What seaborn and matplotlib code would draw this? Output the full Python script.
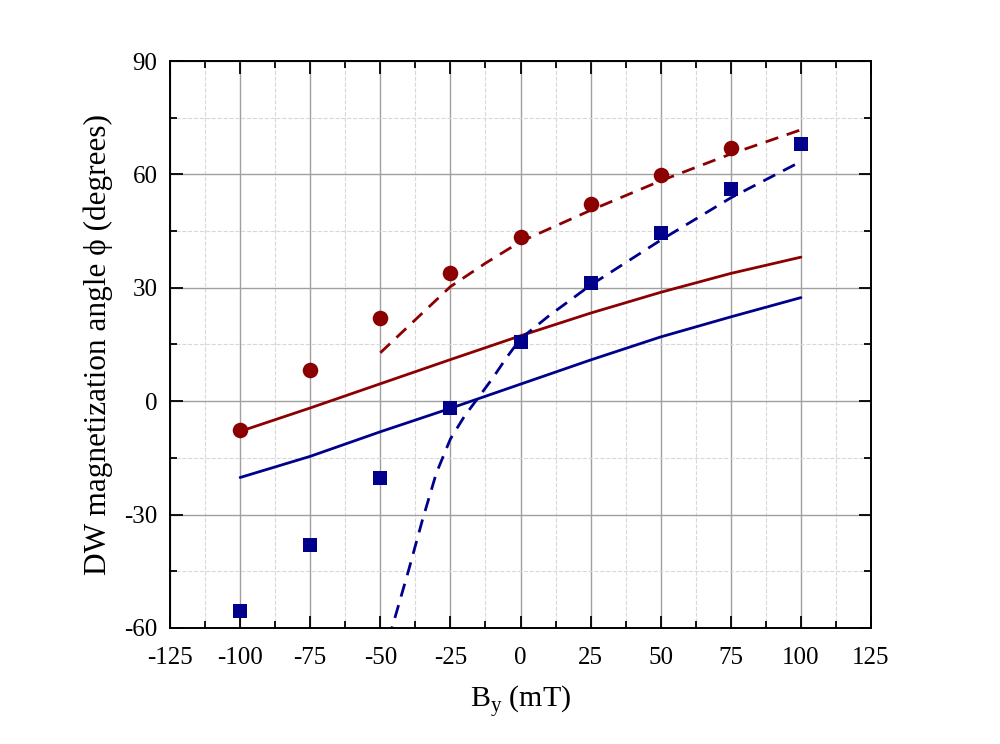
import numpy as np
import pandas as pd
import matplotlib
matplotlib.use("Agg")
import matplotlib.pyplot as plt
import seaborn as sns
from matplotlib.ticker import MultipleLocator

# measured points
field = [-100, -75, -50, -25, 0, 25, 50, 75]
phi_red = [-7.7, 8.3, 22.0, 33.8, 43.4, 52.1, 59.8, 67.1]
field_blue = [-100, -75, -50, -25, 0, 25, 50, 75, 100]
phi_blue = [-55.6, -38.1, -20.4, -1.9, 15.6, 31.2, 44.4, 56.2, 68.0]

# model curves, solid
line_x = [-100, -75, -50, -25, 0, 25, 50, 75, 100]
red_solid = [-8.0, -1.8, 4.6, 11.0, 17.3, 23.3, 28.8, 33.8, 38.1]
blue_solid = [-20.2, -14.6, -8.1, -1.9, 4.5, 10.9, 17.0, 22.3, 27.4]

# model curves, dashed
red_dash_x = [-50, -40, -25, -12.5, 0, 25, 50, 75, 100]
red_dash_y = [12.8, 19.8, 30.3, 36.5, 42.2, 50.5, 58.3, 65.4, 71.8]
blue_dash_x = [-47, -40, -35, -30, -25, -20, -15, -10, -5, 0, 10, 25, 50, 75, 100]
blue_dash_y = [-63, -45, -31.5, -19, -10, -4, 1, 6, 11.5, 16.5, 22.5, 30.7, 42.6, 53.8, 63.4]

red = "#8b0000"
blue = "#00008b"

sns.set_style("ticks")
plt.rcParams['font.family'] = ['Liberation Serif', 'DejaVu Serif']
plt.rcParams['mathtext.fontset'] = 'custom'
plt.rcParams['mathtext.rm'] = 'Liberation Serif'
plt.rcParams['axes.unicode_minus'] = False
plt.rcParams['text.color'] = 'black'
plt.rcParams['axes.labelcolor'] = 'black'
plt.rcParams['xtick.color'] = 'black'
plt.rcParams['ytick.color'] = 'black'

fig = plt.figure(figsize=(10, 7.44), dpi=100)
ax = fig.add_axes([0.17, 0.156, 0.701, 0.762])

ax.xaxis.set_major_locator(MultipleLocator(25))
ax.xaxis.set_minor_locator(MultipleLocator(12.5))
ax.yaxis.set_major_locator(MultipleLocator(30))
ax.yaxis.set_minor_locator(MultipleLocator(15))
ax.grid(which='major', color='#a0a0a0', linewidth=1.0, zorder=0)
ax.grid(which='minor', color='#d8d8d8', linestyle='--', linewidth=0.8, zorder=0)
ax.set_axisbelow(True)

lw = 2.0
dash = (0, (4.8, 3.2))
sns.lineplot(x=line_x, y=red_solid, color=red, linewidth=lw, ax=ax)
sns.lineplot(x=line_x, y=blue_solid, color=blue, linewidth=lw, ax=ax)
sns.lineplot(x=red_dash_x, y=red_dash_y, color=red, linewidth=lw, ax=ax,
             linestyle=dash)
sns.lineplot(x=blue_dash_x, y=blue_dash_y, color=blue, linewidth=lw, ax=ax,
             linestyle=dash)
sns.scatterplot(x=field, y=phi_red, color=red, marker='o', s=125,
                edgecolor=red, linewidth=0, ax=ax, zorder=5)
sns.scatterplot(x=field_blue, y=phi_blue, color=blue, marker='s', s=95,
                edgecolor=blue, linewidth=0, ax=ax, zorder=5)

ax.set_xlim(-125, 125)
ax.set_ylim(-60, 90)
ax.tick_params(which='both', direction='in', top=True, right=True,
               labelsize=18, width=1.3, color='black', labelcolor='black')
ax.tick_params(axis='x', which='major', length=9, pad=14)
ax.tick_params(axis='y', which='major', length=9, pad=9)
ax.tick_params(which='minor', length=5)
for s in ax.spines.values():
    s.set_linewidth(1.4)
    s.set_color('black')

ax.set_xlabel('B$_{\\mathrm{y}}$ (mT)', fontsize=21.5, labelpad=10)
ax.set_ylabel('DW magnetization angle \u03d5 (degrees)', fontsize=22.5, labelpad=8)

fig.savefig('out.png', dpi=100)
